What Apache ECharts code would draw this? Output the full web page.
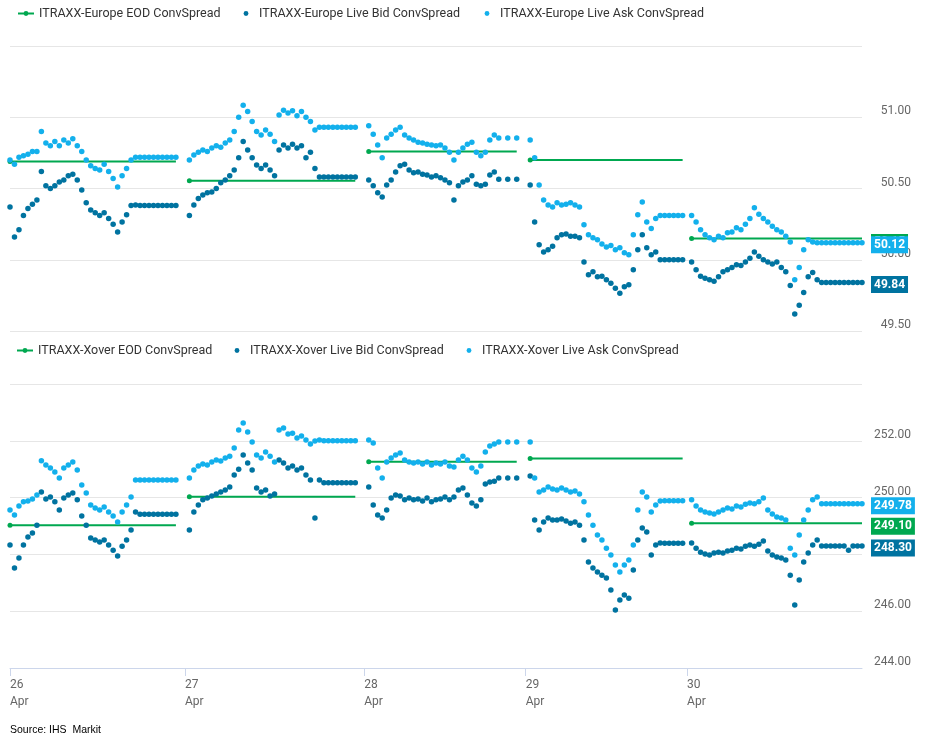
<!DOCTYPE html>
<html><head><meta charset="utf-8">
<script src="https://cdn.jsdelivr.net/npm/echarts@6/dist/echarts.min.js"></script>
<style>html,body{margin:0;padding:0;background:#fff}#c{width:926px;height:744px}</style>
</head><body><div id="c"></div>
<script>
const FONT = 'Roboto, "Liberation Sans", sans-serif';
const days = ['26', '27', '28', '29', '30'];
const month = 'Apr';
const gapsBefore = [0, 2, 2, 2, 1];
const yTicksEurope = [49.5, 51.5, 0.5];
const yTicksXover = [244, 254, 2];

// EOD levels per day
const eodEurope = [50.69, 50.555, 50.76, 50.70, 50.15];
const eodXover = [249.03, 250.03, 251.26, 251.38, 249.10];

// ITRAXX-Europe Live Bid
const euBid26 = [50.37, 50.16, 50.21, 50.31, 50.36, 50.39, 50.42, 50.62, 50.52, 50.50, 50.52, 50.545, 50.56, 50.59, 50.60, 50.56, 50.49, 50.40, 50.35, 50.33, 50.31, 50.33, 50.29, 50.25, 50.195, 50.265, 50.315, 50.38, 50.385, 50.38, 50.38, 50.38, 50.38, 50.38, 50.38, 50.38, 50.38, 50.38];
const euBid27 = [50.31, 50.385, 50.43, 50.455, 50.47, 50.475, 50.50, 50.54, 50.56, 50.59, 50.63, 50.715, 50.83, 50.77, 50.715, 50.665, 50.64, 50.665, 50.63, 50.59, 50.77, 50.805, 50.785, 50.81, 50.785, 50.80, 50.715, 50.755, 50.64, 50.58, 50.58, 50.58, 50.58, 50.58, 50.58, 50.58, 50.58, 50.58];
const euBid28 = [50.56, 50.52, 50.47, 50.44, 50.525, 50.56, 50.615, 50.66, 50.67, 50.63, 50.61, 50.615, 50.60, 50.595, 50.58, 50.59, 50.575, 50.56, 50.54, 50.42, 50.52, 50.545, 50.56, 50.59, 50.53, 50.52, 50.53, 50.595, 50.615, 50.565, null, 50.565, null, 50.565];
const euBid29 = [50.525, 50.265, 50.105, 50.055, 50.07, 50.095, 50.155, 50.175, 50.18, 50.165, 50.165, 50.155, 49.985, 49.895, 49.915, 49.88, 49.885, 49.86, 49.835, 49.80, 49.765, 49.81, 49.825, 49.93, 50.07, 50.175, 50.085, 50.035, 50.055, 50.00, 50.00, 50.00, 50.00, 50.00, 50.00];
const euBid30 = [49.985, 49.93, 49.885, 49.87, 49.86, 49.85, 49.88, 49.915, 49.93, 49.945, 49.965, 49.96, 49.985, 50.01, 50.055, 50.025, 50.00, 49.985, 49.97, 49.985, 49.945, 49.915, 49.82, 49.62, 49.68, 49.77, 49.88, 49.91, 49.86, 49.84, 49.84, 49.84, 49.84, 49.84, 49.84, 49.84, 49.84, 49.84, 49.84];

// ITRAXX-Europe Live Ask
const euAsk26 = [50.70, 50.67, 50.72, 50.73, 50.74, 50.76, 50.76, 50.90, 50.82, 50.80, 50.83, 50.80, 50.84, 50.82, 50.85, 50.80, 50.76, 50.70, 50.66, 50.64, 50.63, 50.67, 50.62, 50.57, 50.51, 50.59, 50.64, 50.70, 50.72, 50.72, 50.72, 50.72, 50.72, 50.72, 50.72, 50.72, 50.72, 50.72];
const euAsk27 = [50.70, 50.735, 50.755, 50.77, 50.76, 50.785, 50.80, 50.79, 50.82, 50.84, 50.90, 51.00, 51.085, 51.04, 50.97, 50.90, 50.875, 50.91, 50.88, 50.83, 51.015, 51.05, 51.03, 51.045, 51.01, 51.04, 51.00, 50.97, 50.91, 50.93, 50.93, 50.93, 50.93, 50.93, 50.93, 50.93, 50.93, 50.93];
const euAsk28 = [50.94, 50.88, 50.805, 50.715, 50.855, 50.88, 50.91, 50.93, 50.875, 50.855, 50.84, 50.825, 50.82, 50.81, 50.805, 50.80, 50.805, 50.785, 50.755, 50.70, 50.755, 50.785, 50.81, 50.825, 50.755, 50.73, 50.755, 50.84, 50.875, 50.855, null, 50.855, null, 50.855];
const euAsk29 = [50.84, 50.715, 50.525, 50.42, 50.385, 50.37, 50.40, 50.385, 50.39, 50.40, 50.385, 50.37, 50.245, 50.175, 50.155, 50.14, 50.11, 50.09, 50.10, 50.07, 50.085, 50.05, 50.035, 50.175, 50.315, 50.405, 50.265, 50.22, 50.29, 50.31, 50.31, 50.31, 50.31, 50.31, 50.31];
const euAsk30 = [50.31, 50.265, 50.21, 50.175, 50.155, 50.14, 50.165, 50.155, 50.19, 50.195, 50.225, 50.21, 50.25, 50.29, 50.365, 50.32, 50.29, 50.265, 50.235, 50.21, 50.195, 50.165, 50.125, 49.86, 49.945, 50.07, 50.14, 50.125, 50.12, 50.12, 50.12, 50.12, 50.12, 50.12, 50.12, 50.12, 50.12, 50.12, 50.12];

// ITRAXX-Xover Live Bid
const xoBid26 = [248.33, 247.52, 247.87, 248.33, 248.61, 248.75, 249.03, 250.20, 249.95, 250.02, 249.85, 249.56, 249.99, 250.09, 250.16, 249.92, 249.35, 249.03, 248.58, 248.51, 248.44, 248.51, 248.33, 248.15, 247.94, 248.29, 248.51, 248.86, 249.49, 249.41, 249.41, 249.41, 249.41, 249.41, 249.41, 249.41, 249.41, 249.41];
const xoBid27 = [248.86, 249.49, 249.74, 249.92, 249.99, 250.06, 250.13, 250.20, 250.27, 250.37, 250.80, 251.00, 251.50, 251.22, 250.97, 250.34, 250.20, 250.27, 250.06, 250.13, 251.32, 251.22, 251.04, 251.11, 250.97, 251.04, 250.80, 250.62, 249.28, 250.62, 250.52, 250.52, 250.52, 250.52, 250.52, 250.52, 250.52, 250.52];
const xoBid28 = [250.37, 249.74, 249.39, 249.28, 249.56, 249.99, 250.09, 250.06, 249.92, 249.99, 249.92, 249.95, 249.88, 249.99, 249.85, 249.92, 249.95, 250.02, 249.92, 250.02, 250.27, 250.34, 250.09, 249.81, 249.70, 249.92, 250.48, 250.55, 250.58, 250.69, null, 250.69, null, 250.69];
const xoBid29 = [250.76, 249.21, 248.86, 249.14, 249.28, 249.21, 249.21, 249.25, 249.18, 249.10, 249.14, 249.03, 248.51, 247.73, 247.52, 247.38, 247.27, 247.17, 246.75, 246.04, 246.39, 246.57, 246.46, 247.45, 248.51, 248.93, 248.79, 247.98, 248.33, 248.40, 248.39, 248.39, 248.39, 248.39, 248.39];
const xoBid30 = [248.40, 248.22, 248.08, 248.01, 247.98, 248.05, 248.08, 248.05, 248.12, 248.15, 248.22, 248.19, 248.29, 248.33, 248.29, 248.36, 248.47, 248.12, 247.98, 247.91, 247.87, 247.80, 247.27, 246.22, 247.10, 247.73, 248.05, 248.33, 248.51, 248.30, 248.30, 248.30, 248.30, 248.30, 248.30, 248.15, 248.30, 248.30, 248.30];

// ITRAXX-Xover Live Ask
const xoAsk26 = [249.56, 249.39, 249.70, 249.85, 249.88, 249.95, 250.09, 251.30, 251.15, 251.04, 250.90, 250.69, 251.04, 251.15, 251.25, 250.97, 250.44, 250.16, 249.74, 249.63, 249.56, 249.67, 249.49, 249.35, 249.14, 249.49, 249.74, 250.02, 250.62, 250.62, 250.62, 250.62, 250.62, 250.62, 250.62, 250.62, 250.62, 250.62];
const xoAsk27 = [250.69, 250.97, 251.11, 251.18, 251.15, 251.25, 251.32, 251.29, 251.39, 251.46, 251.75, 252.38, 252.63, 252.31, 251.96, 251.50, 251.39, 251.61, 251.46, 251.25, 252.38, 252.45, 252.24, 252.27, 252.10, 252.17, 252.03, 251.89, 251.99, 252.03, 252.00, 252.00, 252.00, 252.00, 252.00, 252.00, 252.00, 252.00];
const xoAsk28 = [252.03, 251.92, 251.04, 250.69, 251.25, 251.39, 251.50, 251.57, 251.32, 251.25, 251.22, 251.25, 251.18, 251.25, 251.15, 251.22, 251.18, 251.25, 251.11, 251.08, 251.32, 251.46, 251.32, 251.04, 250.90, 251.11, 251.61, 251.82, 251.89, 251.96, null, 251.96, null, 251.96];
const xoAsk29 = [251.96, 250.69, 250.20, 250.27, 250.37, 250.30, 250.27, 250.34, 250.27, 250.20, 250.23, 250.13, 249.85, 249.39, 249.03, 248.68, 248.51, 248.22, 247.98, 247.63, 247.38, 247.63, 247.80, 248.33, 249.56, 250.20, 250.02, 249.49, 249.74, 249.88, 249.89, 249.89, 249.89, 249.89, 249.89];
const xoAsk30 = [249.92, 249.70, 249.56, 249.49, 249.46, 249.42, 249.49, 249.56, 249.63, 249.60, 249.70, 249.67, 249.77, 249.81, 249.78, 249.85, 249.99, 249.56, 249.42, 249.32, 249.28, 249.21, 248.22, 247.98, 248.68, 249.21, 249.56, 249.92, 250.02, 249.78, 249.78, 249.78, 249.78, 249.78, 249.78, 249.78, 249.78, 249.78, 249.78];

const GREEN = '#00a850', DARK = '#0073a0', LIGHT = '#13b0ec';

// categories (one per quote slot) and day tick positions
const categories = [];
const tickIndex = [];
[euBid26, euBid27, euBid28, euBid29, euBid30].forEach((arr, k) => {
  for (let g = 0; g < gapsBefore[k]; g++) categories.push(days[k] + ' ' + month + ' -' + (gapsBefore[k] - g));
  tickIndex.push(gapsBefore[k] > 0 ? categories.length - 1 : categories.length);
  arr.forEach((_, j) => categories.push(days[k] + ' ' + month + ' ' + j));
});

function joinDays(parts) {
  const out = [];
  parts.forEach((p, k) => {
    for (let g = 0; g < gapsBefore[k]; g++) out.push(null);
    p.forEach(v => out.push(v));
  });
  return out;
}
function eodLine(levels, ref) {
  const out = [];
  ref.forEach((p, k) => {
    for (let g = 0; g < gapsBefore[k]; g++) out.push(null);
    p.forEach((_, j) => out.push(j === 0 ? { value: levels[k], symbol: 'circle', symbolSize: 5 } : levels[k]));
  });
  return out;
}

function endLabel(color, dy) {
  return {
    show: true, formatter: p => Number(p.value).toFixed(2), color: '#fff', backgroundColor: color,
    fontWeight: 'bold', fontSize: 12, fontFamily: FONT, padding: [3, 3, 2, 3], distance: 9, offset: [0, dy]
  };
}
function dots(name, data, color, i) {
  return {
    name, type: 'line', xAxisIndex: i, yAxisIndex: i, data, color,
    symbol: 'circle', symbolSize: 5.5, showSymbol: true, showAllSymbol: true,
    lineStyle: { width: 0 }, itemStyle: { color }, silent: true,
    emphasis: { disabled: true }, endLabel: endLabel(color, 2), z: 3
  };
}
function eod(name, data, i, dy) {
  return {
    name, type: 'line', xAxisIndex: i, yAxisIndex: i, data, color: GREEN,
    symbol: 'none', showAllSymbol: true, lineStyle: { width: 2, color: GREEN },
    itemStyle: { color: GREEN }, silent: true, emphasis: { disabled: true },
    endLabel: endLabel(GREEN, dy), z: 2
  };
}

const refDays = [euBid26, euBid27, euBid28, euBid29, euBid30];
const legendBase = {
  orient: 'horizontal', itemWidth: 16, itemHeight: 6, padding: 0, itemGap: 0, selectedMode: false,
  textStyle: { fontSize: 12.5, color: '#333', fontFamily: FONT }
};
function yAxis(gi, t) {
  return {
    gridIndex: gi, type: 'value', position: 'right', min: t[0], max: t[1], interval: t[2],
    axisLine: { show: false }, axisTick: { show: false },
    splitLine: { lineStyle: { color: '#e6e6e6', width: 1 } },
    axisLabel: {
      showMaxLabel: false, formatter: v => v.toFixed(2), color: '#666', fontSize: 12, fontFamily: FONT,
      align: 'right', margin: 49, verticalAlign: 'bottom', lineHeight: 12, padding: 0
    }
  };
}
const isTick = (idx) => tickIndex.indexOf(idx) >= 0;

const chart = echarts.init(document.getElementById('c'), null, { renderer: 'canvas' });
chart.setOption({
  animation: false,
  backgroundColor: '#fff',
  title: {
    text: 'Source: IHS  Markit', left: 10, top: 725, padding: 0,
    textStyle: { fontSize: 10.5, color: '#000', fontWeight: 'normal', fontFamily: '"Liberation Sans", Arial, sans-serif' }
  },
  legend: [
    Object.assign({}, legendBase, { left: 17, top: 7, data: ['ITRAXX-Europe EOD ConvSpread'] }),
    Object.assign({}, legendBase, { left: 238, top: 7, data: ['ITRAXX-Europe Live Bid ConvSpread'] }),
    Object.assign({}, legendBase, { left: 479, top: 7, data: ['ITRAXX-Europe Live Ask ConvSpread'] }),
    Object.assign({}, legendBase, { left: 16, top: 344, data: ['ITRAXX-Xover EOD ConvSpread'] }),
    Object.assign({}, legendBase, { left: 229, top: 344, data: ['ITRAXX-Xover Live Bid ConvSpread'] }),
    Object.assign({}, legendBase, { left: 461, top: 344, data: ['ITRAXX-Xover Live Ask ConvSpread'] })
  ],
  grid: [
    { left: 10, right: 64, top: 46, height: 285, outerBoundsMode: 'none', containLabel: false },
    { left: 10, right: 64, top: 384, height: 284, outerBoundsMode: 'none', containLabel: false }
  ],
  xAxis: [
    { gridIndex: 0, type: 'category', data: categories, boundaryGap: false, show: false },
    {
      gridIndex: 1, type: 'category', data: categories, boundaryGap: false,
      axisLine: { lineStyle: { color: '#ccd6eb' } },
      axisTick: { show: true, interval: (i) => isTick(i), length: 8, lineStyle: { color: '#ccd6eb' } },
      axisLabel: {
        interval: (i) => isTick(i), align: 'left', color: '#666', fontSize: 12, fontFamily: FONT,
        lineHeight: 17, margin: 8,
        formatter: (v, i) => { const k = tickIndex.indexOf(i); return k >= 0 ? days[k] + '\n' + month : ''; }
      },
      splitLine: { show: false }
    }
  ],
  yAxis: [yAxis(0, yTicksEurope), yAxis(1, yTicksXover)],
  series: [
    eod('ITRAXX-Europe EOD ConvSpread', eodLine(eodEurope, refDays), 0, 4),
    dots('ITRAXX-Europe Live Bid ConvSpread', joinDays([euBid26, euBid27, euBid28, euBid29, euBid30]), DARK, 0),
    dots('ITRAXX-Europe Live Ask ConvSpread', joinDays([euAsk26, euAsk27, euAsk28, euAsk29, euAsk30]), LIGHT, 0),
    eod('ITRAXX-Xover EOD ConvSpread', eodLine(eodXover, refDays), 1, 3),
    dots('ITRAXX-Xover Live Bid ConvSpread', joinDays([xoBid26, xoBid27, xoBid28, xoBid29, xoBid30]), DARK, 1),
    dots('ITRAXX-Xover Live Ask ConvSpread', joinDays([xoAsk26, xoAsk27, xoAsk28, xoAsk29, xoAsk30]), LIGHT, 1)
  ]
});
</script></body></html>
